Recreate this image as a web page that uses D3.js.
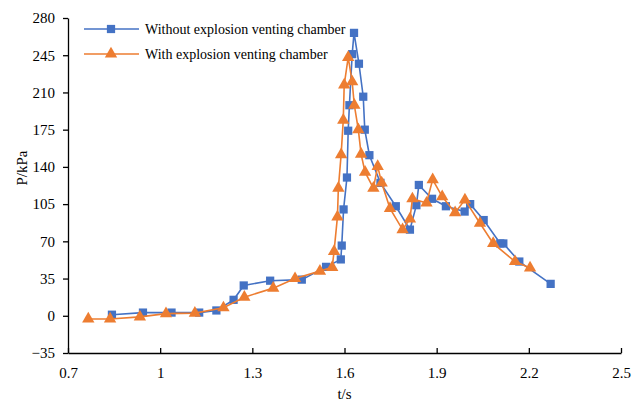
<!DOCTYPE html>
<html>
<head>
<meta charset="utf-8">
<script src="https://cdn.jsdelivr.net/npm/d3@7"></script>
<style>
  body { margin: 0; background: #fff; }
  svg text { font-family: "Liberation Serif", "Times New Roman", serif; }
</style>
</head>
<body>
<svg id="chart" width="633" height="400"></svg>
<script>
// series
var tWithout = [0.843, 0.944, 1.037, 1.127, 1.183, 1.239, 1.272, 1.358, 1.461, 1.540, 1.588, 1.591, 1.597, 1.608, 1.612, 1.616, 1.625, 1.631, 1.647, 1.661, 1.666, 1.681, 1.717, 1.767, 1.813, 1.834, 1.842, 1.885, 1.930, 1.991, 2.009, 2.053, 2.107, 2.117, 2.169, 2.271];
var pWithout = [1, 3, 3, 3, 5, 15, 28.5, 33, 34, 46, 53, 66, 100, 130, 174, 198, 246, 266, 237, 206, 175, 151, 125, 103, 81, 104, 123, 110, 103, 98, 105, 90, 68, 68, 51, 30];

var tWith = [0.766, 0.837, 0.934, 1.019, 1.113, 1.206, 1.274, 1.368, 1.439, 1.520, 1.560, 1.566, 1.577, 1.580, 1.589, 1.596, 1.599, 1.612, 1.625, 1.632, 1.645, 1.654, 1.667, 1.694, 1.708, 1.721, 1.748, 1.789, 1.813, 1.821, 1.867, 1.887, 1.918, 1.960, 1.992, 2.041, 2.084, 2.155, 2.204];
var pWith = [-3, -3, -1, 2, 2.5, 7.5, 17.5, 26, 35, 42, 45.5, 60.5, 93, 120, 151.5, 184, 217, 243, 220, 198, 175, 152, 135, 120, 140.5, 125, 101, 81, 91, 110, 106, 128, 112, 97, 109, 87, 68, 51, 45];

var xTicks = [0.7, 1, 1.3, 1.6, 1.9, 2.2, 2.5];
var yTicks = [-35, 0, 35, 70, 105, 140, 175, 210, 245, 280];

var seriesNames = ["Without explosion venting chamber", "With explosion venting chamber"];
var colors = ["#4472C4", "#ED7D31"];
var serif = '"Liberation Serif", "Times New Roman", serif';

var margin = {top: 18, right: 12, bottom: 47, left: 68},
    width = 633 - margin.left - margin.right,
    height = 400 - margin.top - margin.bottom;

var svg = d3.select("#chart");
var g = svg.append("g").attr("transform", `translate(${margin.left},${margin.top})`);

var x = d3.scaleLinear().domain([0.7, 2.5]).range([0, width]);
var y = d3.scaleLinear().domain([-35, 280]).range([height, 0]);

// axes
var xAxis = g.append("g")
  .attr("transform", `translate(0,${height})`)
  .call(d3.axisBottom(x).tickValues(xTicks).tickSizeInner(-5).tickSizeOuter(0).tickPadding(14).tickFormat(d3.format("")));
var yAxis = g.append("g")
  .call(d3.axisLeft(y).tickValues(yTicks).tickSizeInner(5).tickSizeOuter(0).tickPadding(8));

[xAxis, yAxis].forEach(function(a){
  a.attr("font-family", serif).attr("font-size", 15);
  a.select(".domain").attr("stroke", "#000").attr("stroke-width", 1.3);
  a.selectAll(".tick line").attr("stroke", "#000").attr("stroke-width", 1.3);
  a.selectAll("text").attr("fill", "#000");
});

// axis titles
svg.append("text")
  .attr("x", margin.left + x(1.6)).attr("y", 399)
  .attr("text-anchor", "middle").attr("font-size", "15px").text("t/s");
svg.append("text")
  .attr("transform", "translate(27,168) rotate(-90)")
  .attr("text-anchor", "middle").attr("font-size", "15px").text("P/kPa");

var data = [
  d3.zip(tWithout, pWithout),
  d3.zip(tWith, pWith)
];
var symbols = [d3.symbolSquare, d3.symbolTriangle];
var symSizes = [68, 66];

var line = d3.line().x(d => x(d[0])).y(d => y(d[1]));

data.forEach(function(pts, i){
  g.append("path")
    .datum(pts)
    .attr("fill", "none")
    .attr("stroke", colors[i])
    .attr("stroke-width", 1.6)
    .attr("d", line);
  g.selectAll(".m" + i)
    .data(pts)
    .join("path")
    .attr("class", "m" + i)
    .attr("transform", d => `translate(${x(d[0])},${y(d[1])})`)
    .attr("d", d3.symbol().type(symbols[i]).size(symSizes[i]))
    .attr("fill", colors[i]);
});

// legend
var legend = svg.append("g");
seriesNames.forEach(function(name, i){
  var ly = 29 + i * 25;
  legend.append("line")
    .attr("x1", 84).attr("x2", 139).attr("y1", ly).attr("y2", ly)
    .attr("stroke", colors[i]).attr("stroke-width", 1.6);
  legend.append("path")
    .attr("transform", `translate(111,${ly})`)
    .attr("d", d3.symbol().type(symbols[i]).size(symSizes[i]))
    .attr("fill", colors[i]);
  legend.append("text")
    .attr("x", 145).attr("y", ly + 5)
    .attr("font-size", "14px")
    .text(name);
});
</script>
</body>
</html>
